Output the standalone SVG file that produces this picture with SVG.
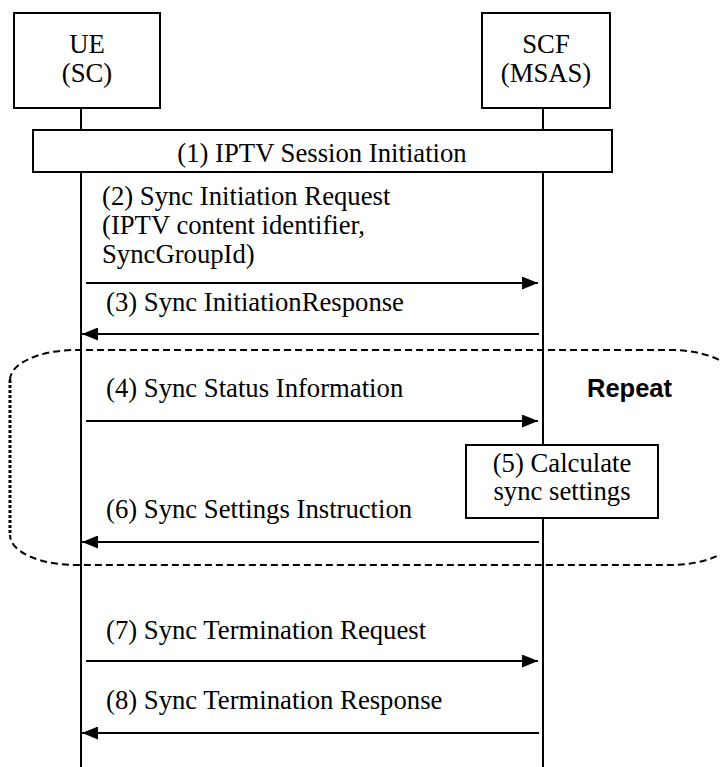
<svg xmlns="http://www.w3.org/2000/svg" width="720" height="767" viewBox="0 0 720 767">
<style>
.t{font-family:"Liberation Serif","Times New Roman",serif;font-size:26.7px;fill:#000}
.c{text-anchor:middle}
.box{fill:#fff;stroke:#000;stroke-width:2}
.life{stroke:#000;stroke-width:2;fill:none}
.msg{stroke:#000;stroke-width:2;fill:none;marker-end:url(#ah)}
.dash{fill:none;stroke:#000;stroke-width:2;stroke-dasharray:7 4}
.dot{fill:none;stroke:#000;stroke-width:3;stroke-dasharray:3 2}
.rep{font-family:"Liberation Sans",Arial,sans-serif;font-weight:bold;font-size:25.5px;fill:#000}
</style>
<defs>
<marker id="ah" viewBox="0 0 16 13" refX="16" refY="6.5" markerWidth="16" markerHeight="13" markerUnits="userSpaceOnUse" orient="auto">
<path d="M0,0 L16,6.5 L0,13 z" fill="#000"/>
</marker>
</defs>
<rect width="720" height="767" fill="#fff"/>
<g id="lifelines">
<line class="life" x1="81" y1="108" x2="81" y2="767"/>
<line class="life" x1="543" y1="108" x2="543" y2="767"/>
</g>
<g id="repeat-region">
<path class="dash" d="M10,380 A66,30 0 0 1 76,350 H670 A66,30 0 0 1 736,380 V535 A66,30 0 0 1 670,565 H76 A66,30 0 0 1 10,535"/>
<path class="dot" d="M10,380 V535"/>
<text class="rep" x="587" y="397">Repeat</text>
</g>
<g id="ue">
<rect class="box" x="14" y="13" width="146" height="95"/>
<text class="t c" x="87" y="53">UE</text>
<text class="t c" x="87" y="82">(SC)</text>
</g>
<g id="scf">
<rect class="box" x="482" y="13" width="128" height="95"/>
<text class="t c" x="546" y="53">SCF</text>
<text class="t c" x="546" y="82">(MSAS)</text>
</g>
<g id="session">
<rect class="box" x="33" y="130" width="579" height="42"/>
<text class="t c" x="322" y="162">(1) IPTV Session Initiation</text>
</g>
<g id="calc">
<rect class="box" x="466" y="445" width="192" height="73"/>
<text class="t c" x="562" y="472">(5) Calculate</text>
<text class="t c" x="562" y="500">sync settings</text>
</g>
<g id="connectors">
<line class="msg" x1="86" y1="283" x2="538" y2="283"/>
<line class="msg" x1="539" y1="334" x2="82" y2="334"/>
<line class="msg" x1="86" y1="421" x2="538" y2="421"/>
<line class="msg" x1="539" y1="542" x2="82" y2="542"/>
<line class="msg" x1="86" y1="661" x2="538" y2="661"/>
<line class="msg" x1="539" y1="733" x2="82" y2="733"/>
</g>
<g id="labels">
<text class="t" x="102" y="205">(2) Sync Initiation Request</text>
<text class="t" x="102" y="234">(IPTV content identifier,</text>
<text class="t" x="102" y="263">SyncGroupId)</text>
<text class="t" x="106" y="311">(3) Sync InitiationResponse</text>
<text class="t" x="106" y="397">(4) Sync Status Information</text>
<text class="t" x="106" y="518">(6) Sync Settings Instruction</text>
<text class="t" x="106" y="639">(7) Sync Termination Request</text>
<text class="t" x="106" y="709">(8) Sync Termination Response</text>
</g>
</svg>
